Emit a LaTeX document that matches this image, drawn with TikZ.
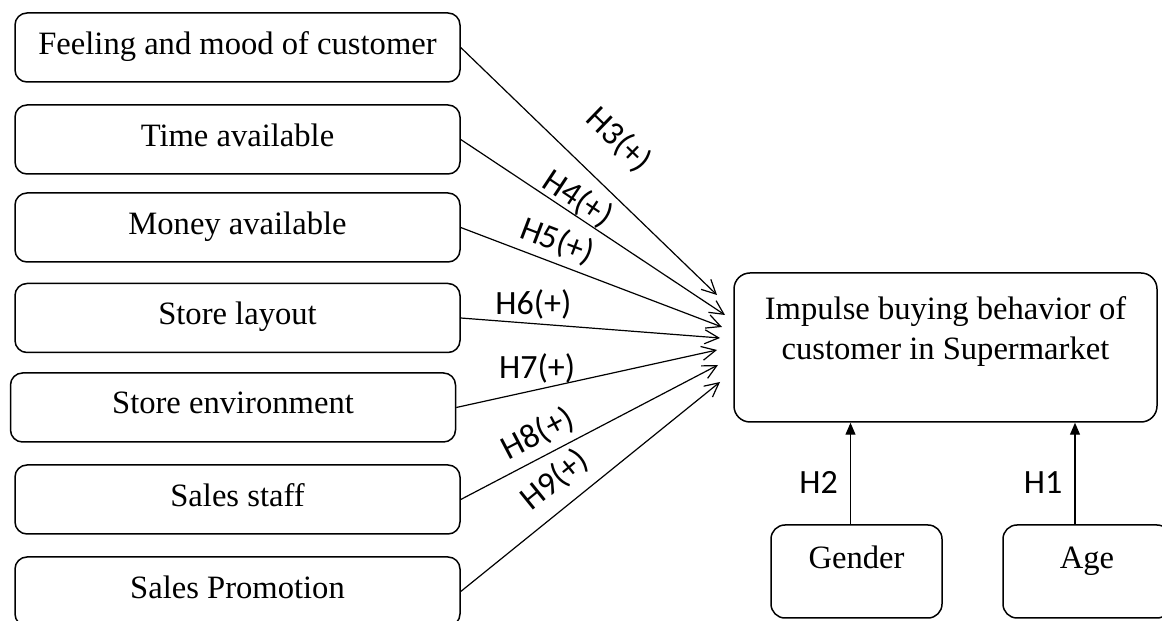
\documentclass[tikz,border=0pt]{standalone}
\usepackage{fontspec}
\setmainfont{Liberation Serif}
\newfontfamily\calib{Carlito}
\usetikzlibrary{arrows.meta,positioning}

\begin{document}
\begin{tikzpicture}[x=.5pt,y=.5pt,font=\fontsize{16.3}{20}\selectfont,
 factor/.style={draw,line width=.75pt,rounded corners=6pt,minimum width=222.5pt,minimum height=34.5pt,text depth=4.5pt},
 mainbox/.style={draw,line width=.75pt,rounded corners=8pt,minimum width=211.5pt,minimum height=74.5pt},
 demo/.style={draw,line width=.75pt,rounded corners=7pt,minimum width=85.5pt,minimum height=46.5pt,text depth=14pt},
 hyp/.style={-{Straight Barb[length=7pt,width=7pt]},line width=.6pt},
 link/.style={-{Triangle[length=6pt,width=5pt]},line width=.6pt},
 hlab/.style={font=\calib\fontsize{17}{20}\selectfont,inner sep=0pt},
 slab/.style={hlab,sloped},
 flab/.style={hlab}]
\useasboundingbox (0,0) rectangle (1162,621);
% factors on the left
\node[factor] (feel) at (237.5,573.5) {Feeling and mood of customer};
\node[factor] (time) at (237.5,481.5) {Time available};
\node[factor] (money) at (237.5,393.5) {Money available};
\node[factor] (layout) at (237.5,303) {Store layout};
\node[factor] (environ) at (233,213.5) {Store environment};
\node[factor] (staff) at (237.5,121.5) {Sales staff};
\node[factor] (promo) at (237.5,29.5) {Sales Promotion};
% outcome and demographics
\node[mainbox] (impulse) at (945.5,273.5) {};
\node[inner sep=0pt,align=center,below=12pt of impulse.north] (impulsetext)
 {Impulse buying behavior of\\customer in Supermarket};
\node[demo] (gender) at (856.5,49.5) {Gender};
\node[demo,minimum width=84pt] (age) at (1087,49.5) {Age};
% hypotheses
\foreach \src/\tx/\ty/\lab/\p/\d/\st in {feel/717/326/H3/.5/14/slab,
 time/725/306/H4/.41/0/slab,money/722/294/H5/.34/3/slab,
 layout/720/283/H6/.28/2/flab,environ/717/271/H7/.31/3/flab,
 staff/718/256/H8/.34/3.5/slab,promo/720/239/H9/.43/6/slab}
 \draw[hyp] (\src.east) -- (\tx,\ty) node[\st,pos=\p,above=\d pt] {\lab(+)};
\draw[link] ([xshift=-3pt]gender.north) -- ([xshift=-3pt]gender.north |- impulse.south)
 node[hlab,pos=.41,left=6pt] {H2};
\draw[link] ([xshift=-6pt]age.north) -- ([xshift=-6pt]age.north |- impulse.south)
 node[hlab,pos=.41,left=6pt] {H1};
\end{tikzpicture}
\end{document}
